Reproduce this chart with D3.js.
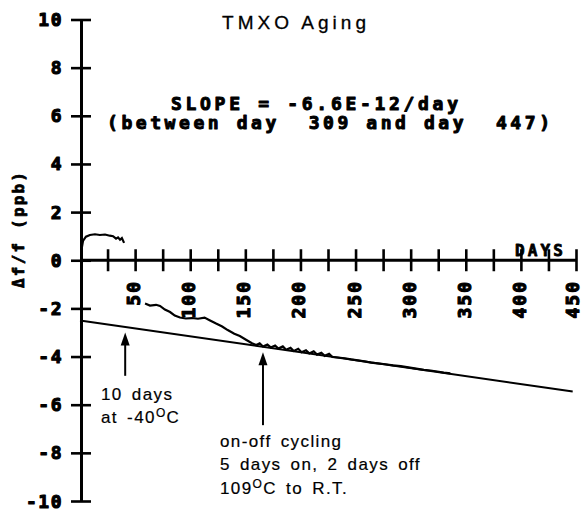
<!DOCTYPE html>
<html>
<head>
<meta charset="utf-8">
<script src="https://cdn.jsdelivr.net/npm/d3@7/dist/d3.min.js"></script>
<style>
  html, body { margin: 0; padding: 0; background: #fff; }
  svg { display: block; }
</style>
</head>
<body>
<svg id="chart" width="582" height="513"></svg>
<script>
// Frequency aging of a TMXO: fractional frequency offset (ppb) versus elapsed days.

const xTicks = d3.range(0, 451, 25);          // tick marks every 25 days
const xTickLabels = [50, 100, 150, 200, 250, 300, 350, 400, 450];
const yTicks = [10, 8, 6, 4, 2, 0, -2, -4, -6, -8, -10];

// First run (before the cold soak)
const run1Days = [1.4, 2.7, 5.4, 9, 13.6, 18, 22.7, 27, 30, 32.7, 34.5, 36.3, 38, 40];
const run1Vals = [0.45, 0.8, 0.98, 1.05, 1.08, 1.05, 1.07, 1.02, 1.0, 0.9, 0.95, 0.85, 0.92, 0.72];

// Second run (after the cold soak), including the on-off cycling period
const run2Days = [59, 63.5, 69, 72.6, 77, 81.7, 86, 90.7, 96, 101.6, 107, 113, 118, 123, 129, 134, 140, 145, 150.6, 156,
                  160, 163, 166, 170, 173, 177, 180, 184, 187, 191, 194, 198, 201, 205, 208, 212, 215, 219, 222, 226, 229,
                  234, 240, 246, 252, 258, 264, 270, 277, 284, 291, 298, 305, 312, 318, 324, 330, 336];
const run2Vals = [-1.8, -1.88, -1.85, -1.9, -2.05, -2.15, -2.3, -2.38, -2.42, -2.4, -2.43, -2.38, -2.5, -2.62, -2.75, -2.9, -3.05, -3.15, -3.3, -3.45,
                  -3.52, -3.45, -3.58, -3.50, -3.62, -3.54, -3.67, -3.58, -3.72, -3.64, -3.77, -3.68, -3.82, -3.74, -3.87, -3.78, -3.92, -3.84, -3.97, -3.89, -4.02,
                  -4.04, -4.07, -4.12, -4.16, -4.20, -4.25, -4.28, -4.32, -4.37, -4.40, -4.45, -4.50, -4.55, -4.58, -4.62, -4.67, -4.70];

// Aging fit line (slope quoted in the chart: -6.6E-12/day = -0.0066 ppb/day)
const fitSlope = -0.0066;
const fitIntercept = -2.5;
const fitDays = [0, 447];

// Arrows pointing at events
const arrowDays  = [41, 166];
const arrowTips  = [-3.0, -3.82];
const arrowTails = [-4.8, -6.85];

const svg = d3.select("#chart");
const x = d3.scaleLinear().domain([0, 450]).range([80, 576]);
const y = d3.scaleLinear().domain([-10, 10]).range([501, 19.5]);

const mono = "'DejaVu Sans Mono', monospace";
const sans = "'Liberation Sans', Arial, sans-serif";

// heavy plotter-style lettering
function heavy(sel, w) {
  return sel.attr("font-family", mono).attr("font-weight", "bold")
    .attr("fill", "#000").attr("stroke", "#000").attr("stroke-width", w)
    .attr("stroke-linejoin", "round");
}

// ---- Axes ----
const axY = svg.append("g").attr("transform", `translate(${x(0) + 1},0)`)
  .call(d3.axisLeft(y).tickValues(yTicks).tickSize(11).tickSizeOuter(0).tickFormat(""));
axY.select(".domain").attr("stroke", "#000").attr("stroke-width", 3);
axY.selectAll(".tick line").attr("x1", 10).attr("x2", -10).attr("stroke", "#000").attr("stroke-width", 2.6);

const axX = svg.append("g").attr("transform", `translate(0,${y(0)})`)
  .call(d3.axisBottom(x).tickValues(xTicks).tickSize(11).tickSizeOuter(0).tickFormat(""));
axX.select(".domain").attr("stroke", "#000").attr("stroke-width", 3).attr("d", `M${x(0)},0H${x(450) + 1}`);
axX.selectAll(".tick line").attr("y1", -11).attr("y2", 11).attr("stroke", "#000").attr("stroke-width", 2.6);
axX.selectAll(".tick").filter(d => d === 0).remove();

// Y tick labels
heavy(svg.append("g").selectAll("text").data(yTicks).join("text"), 1.1)
  .attr("x", 63).attr("y", d => y(d))
  .attr("text-anchor", "end").attr("dominant-baseline", "central")
  .attr("font-size", 18)
  .attr("letter-spacing", 1.5)
  .text(d => d);

// X tick labels, rotated to read upward (kept inside the right edge)
heavy(svg.append("g").selectAll("text").data(xTickLabels).join("text"), 1.1)
  .attr("transform", d => `translate(${Math.min(x(d) - 1.5, 572)},280) rotate(-90)`)
  .attr("text-anchor", "end").attr("dominant-baseline", "central")
  .attr("font-size", 18)
  .attr("letter-spacing", 2)
  .text(d => d);

// Axis titles
heavy(svg.append("text"), 0.8)
  .attr("transform", "translate(18,230) rotate(-90)")
  .attr("text-anchor", "middle").attr("dominant-baseline", "central")
  .attr("font-size", 16)
  .attr("textLength", 116).attr("lengthAdjust", "spacing")
  .text("Δf/f (ppb)");

heavy(svg.append("text"), 0.8)
  .attr("x", 515).attr("y", 256)
  .attr("font-size", 16)
  .attr("textLength", 48).attr("lengthAdjust", "spacing")
  .text("DAYS");

// Chart title
svg.append("text")
  .attr("x", 222).attr("y", 29)
  .attr("font-family", sans).attr("font-size", 19)
  .attr("stroke", "#000").attr("stroke-width", 0.3)
  .attr("textLength", 144).attr("lengthAdjust", "spacing")
  .text("TMXO Aging");

// Slope annotation
heavy(svg.append("text"), 1)
  .attr("x", 171).attr("y", 110)
  .attr("font-size", 18)
  .attr("textLength", 287).attr("lengthAdjust", "spacing")
  .text("SLOPE = -6.6E-12/day");
heavy(svg.append("text"), 1)
  .attr("x", 107).attr("y", 129)
  .attr("font-size", 18)
  .attr("textLength", 443).attr("lengthAdjust", "spacing")
  .attr("xml:space", "preserve").style("white-space", "pre")
  .text("(between day  309 and day  447)");

// ---- Data ----
const line = d3.line().x(d => x(d[0])).y(d => y(d[1]));

svg.append("path")
  .datum(fitDays.map(d => [d, fitIntercept + fitSlope * d]))
  .attr("d", line).attr("fill", "none").attr("stroke", "#000").attr("stroke-width", 2);

svg.append("path")
  .datum(run1Days.map((d, i) => [d, run1Vals[i]]))
  .attr("d", line).attr("fill", "none").attr("stroke", "#000").attr("stroke-width", 2.2);

svg.append("path")
  .datum(run2Days.map((d, i) => [d, run2Vals[i]]))
  .attr("d", line).attr("fill", "none").attr("stroke", "#000").attr("stroke-width", 2.2);

// ---- Event arrows ----
arrowDays.forEach((d, i) => {
  const ax = x(d), tip = y(arrowTips[i]), tail = y(arrowTails[i]);
  svg.append("line").attr("x1", ax).attr("x2", ax).attr("y1", tail).attr("y2", tip + 8)
    .attr("stroke", "#000").attr("stroke-width", 2);
  svg.append("path")
    .attr("d", `M${ax},${tip}L${ax - 4.5},${tip + 13}L${ax + 4.5},${tip + 13}Z`)
    .attr("fill", "#000");
});

// Event notes
function note(xp, yp, parts) {
  const t = svg.append("text").attr("x", xp).attr("y", yp)
    .attr("font-family", sans).attr("font-size", 17).attr("letter-spacing", 1.4)
    .attr("word-spacing", 3).attr("stroke", "#000").attr("stroke-width", 0.2);
  parts.forEach(p => {
    const s = t.append("tspan").text(p.t);
    if (p.sup) s.attr("font-size", 12).attr("dy", -6);
    if (p.down) s.attr("dy", 6);
  });
}
note(101, 400, [{ t: "10 days" }]);
note(101, 423, [{ t: "at -40" }, { t: "O", sup: true }, { t: "C", down: true }]);
note(220, 447, [{ t: "on-off cycling" }]);
note(220, 470, [{ t: "5 days on, 2 days off" }]);
note(220, 494, [{ t: "109" }, { t: "O", sup: true }, { t: "C to R.T.", down: true }]);
</script>
</body>
</html>
